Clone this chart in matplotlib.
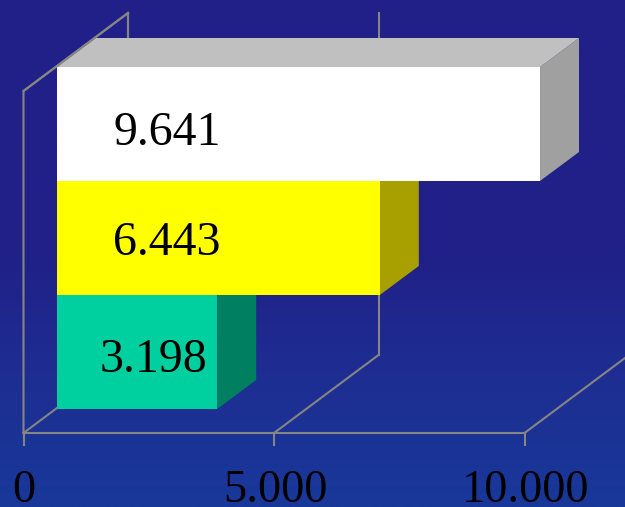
import numpy as np
import matplotlib
matplotlib.use("Agg")
import matplotlib.pyplot as plt
from matplotlib.colors import LinearSegmentedColormap
from matplotlib.patches import Polygon

# Data
values = [3198, 6443, 9641]
value_labels = ["3.198", "6.443", "9.641"]
axis_ticks = [0, 5000, 10000]
tick_labels = ["0", "5.000", "10.000"]
front_colors = ["#00D0A0", "#FFFF00", "#FFFFFF"]
side_colors = ["#008060", "#A8A000", "#A0A0A0"]
top_colors = ["#00A880", "#D0D000", "#C0C0C0"]

# Layout: the horizontal axis is in value units, the vertical one in pixels
PX_PER_UNIT = 0.0501
X0_PX = 23.5
BASE_Y = 433
FLOOR_DX, FLOOR_DY = 104.5 / PX_PER_UNIT, -78    # full depth of the chart box
BAR_DX, BAR_DY = 39 / PX_PER_UNIT, -29           # depth of a bar
START_DX, START_DY = 33.5 / PX_PER_UNIT, -24     # front plane of the bars
BOX_H = 342
BAR_H = 114
GREY = "#858585"

W, H = 625, 507
fig = plt.figure(figsize=(W / 100, H / 100), dpi=100)
ax = fig.add_axes([0, 0, 1, 1])
xmin = -X0_PX / PX_PER_UNIT
xmax = (W - X0_PX) / PX_PER_UNIT
ax.set_xlim(xmin, xmax)
ax.set_ylim(H, 0)
ax.axis("off")

# Background gradient
cmap = LinearSegmentedColormap.from_list(
    "bg", [(0, "#202088"), (0.5, "#202088"), (0.75, "#1E2E92"), (1, "#18389A")]
)
ax.imshow(np.linspace(0, 1, 256).reshape(-1, 1), cmap=cmap, aspect="auto",
          extent=(xmin, xmax, H, 0), zorder=0)

# Box lines: left wall, floor lines and back-wall gridlines
lw = 1.5
ax.plot([0, 0, FLOOR_DX], [BASE_Y, BASE_Y - BOX_H, BASE_Y - BOX_H + FLOOR_DY],
        color=GREY, lw=lw, zorder=1)
ax.plot([FLOOR_DX, FLOOR_DX], [BASE_Y - BOX_H + FLOOR_DY, BASE_Y + FLOOR_DY],
        color=GREY, lw=lw, zorder=1)
ax.plot([axis_ticks[0], axis_ticks[-1]], [BASE_Y, BASE_Y], color=GREY, lw=lw, zorder=1)
for t in axis_ticks:
    ax.plot([t, t], [BASE_Y, BASE_Y + 12], color=GREY, lw=lw, zorder=1)
    ax.plot([t, t + FLOOR_DX], [BASE_Y, BASE_Y + FLOOR_DY], color=GREY, lw=lw, zorder=1)
    if t != axis_ticks[-1]:
        ax.plot([t + FLOOR_DX] * 2, [BASE_Y + FLOOR_DY, BASE_Y + FLOOR_DY - BOX_H],
                color=GREY, lw=lw, zorder=1)

# Bars, bottom to top
for i, v in enumerate(values):
    y_bottom = BASE_Y + START_DY - i * BAR_H
    y_top = y_bottom - BAR_H
    x0 = START_DX
    x1 = START_DX + v
    z = 2 + i
    ax.barh((y_bottom + y_top) / 2, v, height=BAR_H, left=x0,
            color=front_colors[i], linewidth=0, zorder=z + 0.2)
    ax.add_patch(Polygon([(x1, y_bottom), (x1 + BAR_DX, y_bottom + BAR_DY),
                          (x1 + BAR_DX, y_top + BAR_DY), (x1, y_top)],
                         closed=True, fc=side_colors[i], ec="none", zorder=z))
    ax.add_patch(Polygon([(x0, y_top), (x0 + BAR_DX, y_top + BAR_DY),
                          (x1 + BAR_DX, y_top + BAR_DY), (x1, y_top)],
                         closed=True, fc=top_colors[i], ec="none", zorder=z))

# Left wall top edge stays above the white bar's top face
ax.plot([0, FLOOR_DX], [BASE_Y - BOX_H, BASE_Y - BOX_H + FLOOR_DY],
        color=GREY, lw=lw, zorder=6)

# Labels
FONT = "Liberation Serif"
label_x_px = [153.5, 166.5, 167]
label_y_px = [360, 243, 133]
for s, xp, yp in zip(value_labels, label_x_px, label_y_px):
    ax.text((xp - X0_PX) / PX_PER_UNIT, yp, s, family=FONT, fontsize=34.5,
            ha="center", va="center", color="black", zorder=7)
tick_label_x_px = [24, 275, 526]
for px, s in zip(tick_label_x_px, tick_labels):
    ax.text((px - X0_PX) / PX_PER_UNIT, 502, s, family=FONT, fontsize=33.5,
            ha="center", va="baseline", color="black", zorder=7)

fig.savefig("out.png", dpi=100)
